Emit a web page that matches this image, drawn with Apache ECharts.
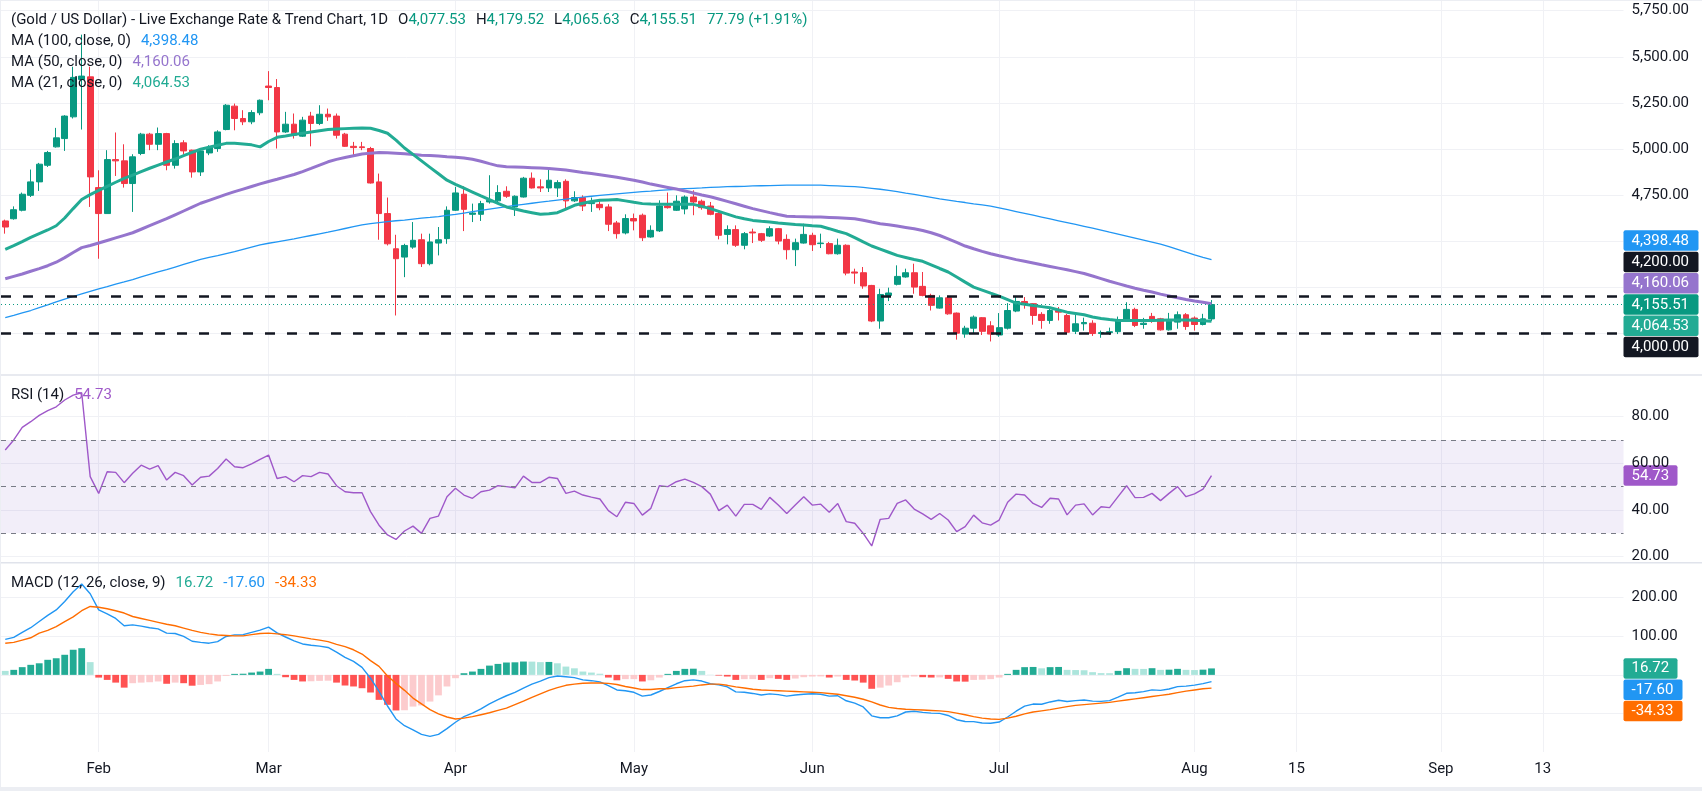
<!DOCTYPE html>
<html>
<head>
<meta charset="utf-8">
<title>Gold / US Dollar</title>
<script src="https://cdn.jsdelivr.net/npm/echarts@6.0.0/dist/echarts.min.js"></script>
<style>
html,body{margin:0;padding:0;background:#fff;}
#chart{width:1702px;height:791px;}
</style>
</head>
<body>
<div id="chart"></div>
<script>
// 日K [open, high, low, close]
var candles = [
	[4609,4616,4540,4576],[4621,4688,4616,4670],[4667,4763,4661,4754],[4748,4888,4739,4821],[4821,4924,4772,4917],
	[4911,4989,4902,4980],[5011,5114,5007,5060],[5056,5183,4989,5178],[5174,5446,5165,5388],[5377,5620,5105,5395],
	[5391,5446,4685,4848],[4790,4884,4404,4649],[4649,4993,4649,4942],[4942,5089,4853,4935],[4935,5025,4790,4812],
	[4812,4971,4658,4957],[4975,5087,4966,5080],[5080,5087,4993,5025],[5025,5116,4993,5083],[5083,5087,4884,4911],
	[4911,5047,4893,5029],[5033,5047,4971,4989],[4993,4996,4844,4875],[4875,5002,4853,4989],[4978,5020,4966,5007],
	[5002,5101,4984,5092],[5105,5243,5101,5237],[5232,5246,5101,5165],[5165,5210,5129,5147],[5147,5210,5134,5197],
	[5196,5268,5183,5264],[5341,5422,5264,5333],[5333,5379,5002,5092],[5092,5201,5087,5134],[5134,5192,5056,5074],
	[5069,5174,5065,5156],[5178,5201,5014,5138],[5138,5237,5129,5188],[5188,5219,5152,5174],[5178,5192,5056,5074],
	[5080,5087,5011,5014],[5014,5038,4966,5007],[5011,5038,4993,5007],[5002,5011,4812,4815],[4821,4866,4507,4649],
	[4649,4736,4476,4485],[4458,4534,4096,4404],[4413,4485,4304,4476],[4467,4603,4458,4504],[4507,4540,4359,4377],
	[4377,4540,4368,4495],[4489,4576,4422,4507],[4513,4688,4485,4667],[4667,4794,4663,4761],[4754,4797,4554,4672],
	[4645,4703,4603,4652],[4645,4718,4609,4703],[4712,4857,4703,4721],[4718,4803,4703,4763],[4770,4797,4734,4743],
	[4685,4748,4636,4743],[4739,4848,4736,4841],[4841,4872,4785,4788],[4794,4835,4766,4788],[4788,4890,4766,4830],
	[4788,4830,4739,4817],[4824,4835,4672,4718],[4718,4770,4712,4736],[4736,4748,4663,4690],[4703,4736,4658,4709],
	[4699,4721,4667,4681],[4685,4700,4554,4591],[4598,4609,4513,4540],[4544,4645,4536,4622],[4622,4649,4558,4609],
	[4640,4649,4500,4518],[4522,4585,4518,4558],[4555,4721,4549,4690],[4690,4763,4676,4681],[4667,4748,4663,4716],
	[4674,4748,4645,4739],[4739,4775,4640,4712],[4716,4725,4670,4681],[4690,4712,4640,4645],[4649,4663,4509,4531],
	[4536,4585,4482,4562],[4562,4585,4468,4477],[4477,4549,4455,4540],[4549,4567,4489,4544],[4540,4544,4495,4504],
	[4527,4580,4522,4567],[4567,4571,4482,4500],[4509,4536,4400,4453],[4453,4513,4364,4491],[4489,4594,4486,4536],
	[4531,4545,4446,4480],[4486,4540,4462,4489],[4486,4495,4428,4431],[4431,4513,4426,4477],[4477,4482,4314,4326],
	[4332,4350,4268,4326],[4328,4359,4241,4256],[4259,4262,4060,4066],[4066,4241,4024,4210],[4205,4247,4174,4218],
	[4265,4368,4259,4308],[4305,4350,4301,4328],[4328,4377,4214,4250],[4254,4332,4200,4205],[4205,4214,4123,4151],
	[4136,4205,4133,4192],[4192,4201,4100,4105],[4109,4112,3965,4000],[3995,4040,3975,4027],[4027,4096,4000,4087],
	[4084,4087,3990,4010],[4040,4065,3955,3995],[3990,4109,3980,4030],[4027,4163,4020,4123],[4120,4196,4114,4172],
	[4172,4196,4133,4156],[4160,4163,4046,4096],[4102,4114,4024,4069],[4069,4133,4051,4123],[4123,4142,4069,4114],
	[4096,4105,3995,4005],[4010,4101,3995,4051],[4051,4084,4014,4058],[4054,4070,3985,3998],[3998,4014,3975,4003],
	[4003,4030,3990,4008],[4008,4090,3995,4073],[4074,4168,4069,4129],[4129,4138,4033,4042],[4047,4083,4024,4054],
	[4091,4110,4056,4065],[4078,4083,4014,4018],[4018,4110,4014,4065],[4060,4118,4024,4100],[4100,4109,4018,4036],
	[4082,4091,4014,4047],[4047,4105,4042,4077.72],[4077.53,4179.52,4065.63,4155.51]
];

var ma100 = [
	4085,4097,4110,4123,4138,4153,4170,4185,4199,4213,4227,4241,4253,4266,4278,4291,4305,4319,4332,4345,
	4359,4373,4387,4400,4411,4421,4432,4443,4455,4467,4479,4488,4496,4504,4512,4521,4530,4539,4548,4558,
	4568,4578,4588,4594,4600,4605,4610,4614,4619,4624,4628,4633,4639,4645,4652,4659,4666,4673,4680,4687,
	4693,4699,4705,4711,4716,4722,4727,4733,4738,4743,4748,4752,4756,4760,4764,4768,4771,4775,4778,4781,
	4784,4786,4788,4791,4793,4795,4796,4797,4799,4800,4801,4802,4803,4803,4803,4803,4803,4801,4799,4797,
	4795,4791,4786,4781,4775,4768,4760,4753,4745,4737,4729,4722,4715,4709,4702,4696,4690,4680,4670,4660,
	4650,4640,4630,4620,4610,4600,4590,4580,4570,4559,4548,4538,4527,4516,4505,4494,4483,4470,4455,4440,
	4425,4411,4398.48
];
var ma50 = [
	4295,4308,4321,4336,4350,4366,4385,4410,4438,4464,4476,4489,4503,4517,4531,4545,4564,4583,4602,4621,
	4642,4663,4684,4705,4721,4737,4753,4768,4782,4796,4810,4823,4835,4848,4861,4877,4894,4912,4930,4943,
	4953,4963,4972,4977,4980,4979,4976,4973,4970,4966,4964,4962,4958,4955,4951,4944,4933,4920,4908,4903,
	4902,4900,4898,4896,4894,4890,4885,4879,4872,4866,4860,4853,4846,4838,4830,4820,4809,4800,4791,4782,
	4772,4761,4750,4740,4728,4715,4702,4689,4676,4665,4654,4644,4635,4633,4632,4631,4630,4628,4626,4624,
	4621,4613,4603,4594,4588,4581,4574,4567,4557,4545,4530,4512,4493,4473,4458,4444,4431,4420,4410,4399,
	4390,4381,4371,4362,4353,4344,4334,4324,4310,4296,4282,4269,4256,4244,4233,4223,4212,4202,4192,4183,
	4175,4168,4160.06
];
var ma21 = [
	4455,4475,4497,4520,4540,4560,4583,4625,4676,4725,4752,4775,4797,4819,4840,4858,4877,4895,4912,4929,
	4945,4963,4981,4998,5009,5020,5030,5030,5027,5022,5011,5040,5063,5070,5078,5085,5092,5099,5105,5108,
	5110,5112,5113,5112,5100,5085,5048,5005,4970,4935,4900,4865,4830,4808,4787,4766,4745,4725,4705,4685,
	4674,4663,4654,4645,4648,4654,4673,4694,4705,4714,4721,4723,4725,4718,4710,4703,4701,4700,4699,4699,
	4699,4699,4688,4676,4661,4646,4631,4621,4612,4607,4603,4598,4594,4590,4587,4583,4580,4567,4553,4540,
	4518,4495,4473,4456,4439,4422,4411,4400,4390,4371,4351,4332,4305,4277,4250,4234,4217,4201,4182,4163,
	4157,4150,4144,4138,4126,4114,4107,4100,4088,4080,4074,4069,4069,4069,4069,4069,4070,4071,4072,4072,
	4070,4068,4064.53
];
var rsi = [
	65.7,70,75.4,77.8,80.5,82.5,84.2,87.1,89.2,90.2,54.3,47.1,56.4,56.1,51.7,55.7,59.2,57.5,59,52.8,
	56.1,54.7,50.7,54,54.5,57.8,61.8,58.5,58.1,59.7,61.7,63.5,53.5,54.3,52.1,54.7,54.3,56.1,55.4,50.4,
	47.8,47.4,47.4,39.3,33.5,29.3,27.4,31,33.1,30,36.4,37.4,45.7,49.3,46.4,45,47.8,48.5,50.4,50,
	49.5,54.5,51.8,51.8,54,53.5,47.1,48.1,46.4,45.5,44.7,39.7,37.1,43.3,42.8,37.8,40.7,50.4,50,52.1,
	53.2,51.8,50,46.8,39.7,42.1,37.4,42.4,42.4,40.3,45.4,42.1,38.5,42.1,45.7,42.1,42.5,39,42.8,35,
	34.3,30,24.6,36,36.4,42.8,44.3,40.4,38.3,36,38.5,35.7,30.7,32.9,37.8,34.5,33.5,35.7,43.3,46.8,
	46.4,42.8,41.1,45,44.7,37.9,42.1,42.6,37.9,41.4,41,45.7,50.4,45.3,45.4,47.1,44,47.1,50,45.7,
	46.9,48.9,54.73
];
var macdLine = [
	92,97,110,122,138,154,168,190,215,235,210,168,158,146,127,129.5,126,122,119,108,
	107,99.5,87,84,82,86,99.4,103.6,104,110,115.6,123.5,108.6,98,88,80,76.5,74.5,71,59,
	45.5,35,19.5,-8.6,-42.6,-80.5,-114,-131.5,-142,-154,-159,-154,-139,-122.6,-108,-99,-88,-75,-64,-54,
	-45,-34,-24,-16,-7,-3,-5,-7,-13,-15,-18,-28,-39,-41,-45,-55,-52,-43,-33,-23,
	-15,-13,-16,-23,-26,-31,-44,-45,-48,-52,-49,-51,-55,-52,-50,-49,-50,-55,-54,-67,
	-73,-83,-106,-111,-111,-106,-96,-94,-97,-99,-99.5,-105,-116,-120.5,-121,-124.5,-125,-122,-109,-94,
	-81,-75.5,-76,-70,-65.5,-69,-66.5,-65,-68,-68.5,-66.7,-57.6,-47.7,-46.4,-43.4,-38.7,-40,-36.5,-30.4,-29,
	-26.5,-22.5,-17.6
];
var macdSignal = [
	82,84,90,96,108,115,125,138,150,166,177,175,171,166,160,151,146,141,136,131,
	127,121,115,110,106,103,102,101,101,104,107,108,106,104,101,97,93,90,86,79,
	73,65,54,37,22,-3,-22,-40,-60,-75,-90,-101,-109,-114,-112,-108,-103,-98,-92,-86,
	-77,-68,-58,-49,-40,-33,-27,-24,-21.5,-21,-21,-22,-25,-30,-34,-38,-38,-36,-36,-33,
	-31,-29,-26,-24,-24,-27,-31,-34,-37,-39,-40,-41,-42,-43,-44,-45,-46,-48,-50,-54,
	-58,-63,-70,-78,-84,-87,-89,-90,-91,-92,-93,-95,-99,-103,-108,-112,-114,-115,-112,-107,
	-101,-96,-93,-90,-86,-82,-79,-77,-75,-73,-71,-68,-65,-62,-59,-56,-53,-50,-46,-42,
	-39,-36,-34.33
];
var macdHist = [
	10.3,13,20,26,30,39,43,52,65,69,33,-7,-13,-20,-33,-21.5,-20,-19,-17,-23,
	-20,-21.5,-28,-26,-24,-17,-2.6,2.6,3,6,8.6,15.5,2.6,-6,-13,-17,-16.5,-15.5,-15,-20,
	-27.5,-30,-34.5,-45.6,-64.6,-77.5,-92,-91.5,-82,-79,-69,-53,-30,-8.6,4.3,8.6,15.5,24,28.4,32,
	32.5,34.5,34.3,33,33.5,30,21.5,17,8.6,6,3,-6.9,-14,-11,-11,-17,-14,-6.9,2.6,10.3,
	15.5,16,10.3,0.5,-1.7,-4.3,-13,-11,-11,-13,-8.6,-10.3,-13,-9.5,-6,-4.3,-4,-6.9,-4.3,-13,
	-14.6,-20,-36,-33,-27.5,-19,-6.9,-4.3,-6,-6.9,-6.5,-10.3,-17,-17.5,-13,-12.5,-11,-6.9,2.6,13,
	20,20.5,17,20,20.5,13,12.5,12,7,4.5,4.3,10.4,17.3,15.6,15.4,17.3,13,13.5,15.6,13,
	12.5,13.5,16.72
];

var levels = [4200, 4000];
var priceTicks = [4000, 4250, 4500, 4750, 5000, 5250, 5500, 5750];
var priceLabels = [4750, 5000, 5250, 5500, 5750];
var rsiTicks = [20, 40, 60, 80];
var rsiBands = [30, 50, 70];
var macdTicks = [-100, 0, 100, 200];
var macdLabels = [100, 200];
var xTickDates = ['2026-02-02','2026-03-02','2026-04-01','2026-05-01','2026-06-01','2026-07-01','2026-08-03','2026-08-15','2026-09-01','2026-09-13'];
var xTickLabels = ['Feb','Mar','Apr','May','Jun','Jul','Aug','15','Sep','13'];
var holidays = ['2026-04-03'];
var lastBarDate = '2026-08-05';

// 交易日 + 之后的自然日
var dates = [];
(function(){
	var d = new Date(Date.UTC(2026, 0, 16));
	while (dates.length < 191) {
		var s = d.toISOString().slice(0, 10);
		var wd = d.getUTCDay();
		if (s > lastBarDate || (wd != 0 && wd != 6 && holidays.indexOf(s) == -1)) dates.push(s);
		d.setUTCDate(d.getUTCDate() + 1);
	}
})();

var FONT = 'Roboto, "Noto Sans", sans-serif';
var TXT = '#131722';
var GRID = '#f0f1f5';
var UP = '#089981', DOWN = '#f23645';

function fmt(v){
	var p = Number(v).toFixed(2).split('.');
	return p[0].replace(/\B(?=(\d{3})+(?!\d))/g, ',') + '.' + p[1];
}

var last = candles[candles.length - 1];
var prevClose = candles[candles.length - 2][3];
var chg = last[3] - prevClose;

function xAxisOf(i, showLabel){
	return {
		type: 'category', gridIndex: i, data: dates, boundaryGap: true,
		axisLine: {show: false}, axisTick: {show: false}, splitLine: {show: false},
		axisLabel: {
			show: showLabel, margin: 10, color: TXT, fontSize: 15, fontFamily: FONT,
			interval: function(idx, v){ return xTickDates.indexOf(v) >= 0; },
			formatter: function(v){ return xTickLabels[xTickDates.indexOf(v)]; }
		}
	};
}
function yAxisOf(i, min, max, ticks, labels, f){
	return {
		type: 'value', gridIndex: i, position: 'right', min: min, max: max,
		axisLine: {show: false},
		axisTick: {show: false, customValues: ticks},
		splitLine: {show: true, lineStyle: {color: GRID, width: 1}},
		axisLabel: {customValues: labels, margin: 8, color: TXT, fontSize: 15, fontFamily: FONT, formatter: f}
	};
}
// 月份竖线
function vLines(i){
	return {
		type: 'line', xAxisIndex: i, yAxisIndex: i, data: [], silent: true,
		markLine: {
			silent: true, symbol: ['none','none'], z: 0, animation: false,
			label: {show: false},
			lineStyle: {color: GRID, width: 1, type: 'solid'},
			data: xTickDates.map(function(d){ return {xAxis: d}; })
		}
	};
}
function legend(top, text, rich){
	var r = {t: {color: TXT, fontSize: 15, fontFamily: FONT}};
	for (var k in rich) r[k] = {color: rich[k][0], fontSize: 15, fontFamily: FONT, padding: [0,0,0,rich[k][1]]};
	return {left: 11, top: top, padding: 0, text: text,
		textStyle: {fontSize: 15, fontWeight: 'normal', color: TXT, fontFamily: FONT, lineHeight: 20, rich: r}};
}

var W = 1622.5;
var option = {
	animation: false,
	backgroundColor: '#fff',
	textStyle: {fontFamily: FONT},
	title: [
		legend(10.7, '{t|(Gold / US Dollar) - Live Exchange Rate & Trend Chart, 1D}{k|O}{v|' + fmt(last[0]) + '}{k|H}{v|' + fmt(last[1]) +
			'}{k|L}{v|' + fmt(last[2]) + '}{k|C}{v|' + fmt(last[3]) + '}{g|' + chg.toFixed(2) + ' (+' + (chg / prevClose * 100).toFixed(2) + '%)}',
			{k: [TXT, 10], v: [UP, 0], g: [UP, 10]}),
		legend(31.7, '{t|MA (100, close, 0)}{b|' + fmt(ma100[ma100.length - 1]) + '}', {b: ['#2196f3', 10]}),
		legend(52.7, '{t|MA (50, close, 0)}{b|' + fmt(ma50[ma50.length - 1]) + '}', {b: ['#9575cd', 10]}),
		legend(73.3, '{t|MA (21, close, 0)}{b|' + fmt(ma21[ma21.length - 1]) + '}', {b: ['#22ab94', 10]}),
		legend(385, '{t|RSI (14)}{b|' + rsi[rsi.length - 1].toFixed(2) + '}', {b: ['#9f58c9', 10]}),
		legend(573, '{t|MACD (12, 26, close, 9)}{a|' + macdHist[macdHist.length - 1].toFixed(2) + '}{b|' + macdLine[macdLine.length - 1].toFixed(2) +
			'}{c|' + macdSignal[macdSignal.length - 1].toFixed(2) + '}', {a: ['#22ab94', 10], b: ['#2196f3', 10], c: ['#ff6d00', 10]})
	],
	grid: [
		{left: 1, width: W, top: 0, height: 375},
		{left: 1, width: W, top: 375, height: 187.7},
		{left: 1, width: W, top: 562.7, height: 189.3}
	],
	xAxis: [xAxisOf(0, false), xAxisOf(1, false), xAxisOf(2, true)],
	yAxis: [
		yAxisOf(0, 3773, 5808, priceTicks, priceLabels, fmt),
		yAxisOf(1, 17.43, 97.8, rsiTicks, rsiTicks, function(v){ return v.toFixed(2); }),
		yAxisOf(2, -199.5, 290.2, macdTicks, macdLabels, function(v){ return v.toFixed(2); })
	],
	series: [
		vLines(0), vLines(1), vLines(2),
		{
			name: 'XAUUSD', type: 'candlestick', xAxisIndex: 0, yAxisIndex: 0, barWidth: '74%',
			data: candles.map(function(c){ return [c[0], c[3], c[2], c[1]]; }),
			itemStyle: {color: UP, color0: DOWN, borderColor: UP, borderColor0: DOWN, borderWidth: 1},
			markLine: {
				silent: true, symbol: ['none','none'], animation: false, label: {show: false},
				data: levels.map(function(v){ return {yAxis: v, lineStyle: {color: TXT, width: 2.5, type: [10, 12]}}; })
					.concat([{yAxis: last[3], lineStyle: {color: UP, width: 1, type: [1, 3]}}])
			}
		},
		{name: 'MA100', type: 'line', xAxisIndex: 0, yAxisIndex: 0, data: ma100, showSymbol: false, symbol: 'none',
			lineStyle: {color: '#2196f3', width: 1.3}},
		{name: 'MA50', type: 'line', xAxisIndex: 0, yAxisIndex: 0, data: ma50, showSymbol: false, symbol: 'none',
			lineStyle: {color: '#9575cd', width: 3}},
		{name: 'MA21', type: 'line', xAxisIndex: 0, yAxisIndex: 0, data: ma21, showSymbol: false, symbol: 'none',
			lineStyle: {color: '#22ab94', width: 3}},
		{
			name: 'RSI', type: 'line', xAxisIndex: 1, yAxisIndex: 1, data: rsi, showSymbol: false, symbol: 'none',
			lineStyle: {color: '#9f58c9', width: 1.4},
			markArea: {silent: true, itemStyle: {color: 'rgba(126,87,194,0.1)'}, data: [[{yAxis: rsiBands[0]}, {yAxis: rsiBands[2]}]]},
			markLine: {
				silent: true, symbol: ['none','none'], animation: false, label: {show: false},
				lineStyle: {color: '#787b86', width: 1, type: [5, 5]},
				data: rsiBands.map(function(v){ return {yAxis: v}; })
			}
		},
		{
			name: 'Histogram', type: 'bar', xAxisIndex: 2, yAxisIndex: 2, data: macdHist, barWidth: '80%',
			itemStyle: {
				color: function(p){
					var h = macdHist[p.dataIndex], prev = p.dataIndex > 0 ? macdHist[p.dataIndex - 1] : Infinity;
					if (h >= 0) return h >= prev ? '#22ab94' : '#ace5dc';
					return h < prev ? '#ff5252' : '#fccbcd';
				}
			}
		},
		{name: 'MACD', type: 'line', xAxisIndex: 2, yAxisIndex: 2, data: macdLine, showSymbol: false, symbol: 'none',
			lineStyle: {color: '#2196f3', width: 1.4}},
		{name: 'Signal', type: 'line', xAxisIndex: 2, yAxisIndex: 2, data: macdSignal, showSymbol: false, symbol: 'none',
			lineStyle: {color: '#ff6d00', width: 1.4}}
	]
};

var chart = echarts.init(document.getElementById('chart'));
chart.setOption(option);

// 右侧价格标签, 避免重叠
function stack(list, axis, anchor, gap){
	var ys = list.map(function(b){ return chart.convertToPixel({yAxisIndex: axis}, b.v); });
	for (var i = anchor - 1; i >= 0; i--) ys[i] = Math.min(ys[i], ys[i + 1] - gap);
	for (var j = anchor + 1; j < ys.length; j++) ys[j] = Math.max(ys[j], ys[j - 1] + gap);
	return list.map(function(b, k){
		return {
			type: 'group', x: 1 + W, y: ys[k] - 10.25, z: 100,
			children: [
				{type: 'rect', shape: {x: 0, y: 0, width: b.w, height: 20.5, r: 2}, style: {fill: b.bg}},
				{type: 'text', style: {x: 8, y: 10.5, text: b.t || fmt(b.v), fill: '#fff', font: '15px ' + FONT, verticalAlign: 'middle'}}
			]
		};
	});
}

var priceBadges = [
	{v: ma100[ma100.length - 1], bg: '#2196f3', w: 75},
	{v: levels[0], bg: TXT, w: 75},
	{v: ma50[ma50.length - 1], bg: '#9575cd', w: 75},
	{v: last[3], bg: UP, w: 75},
	{v: ma21[ma21.length - 1], bg: '#22ab94', w: 75},
	{v: levels[1], bg: TXT, w: 75}
];
var rsiBadge = [{v: rsi[rsi.length - 1], t: rsi[rsi.length - 1].toFixed(2), bg: '#9f58c9', w: 54}];
var macdBadges = [
	{v: macdHist[macdHist.length - 1], t: macdHist[macdHist.length - 1].toFixed(2), bg: '#22ab94', w: 54},
	{v: macdLine[macdLine.length - 1], t: macdLine[macdLine.length - 1].toFixed(2), bg: '#2196f3', w: 59},
	{v: macdSignal[macdSignal.length - 1], t: macdSignal[macdSignal.length - 1].toFixed(2), bg: '#ff6d00', w: 59}
];

var chrome = [
	{type: 'rect', shape: {x: 0, y: 374.3, width: 1702, height: 1.4}, style: {fill: '#e0e3eb'}, z: 50},
	{type: 'rect', shape: {x: 0, y: 562, width: 1702, height: 1.4}, style: {fill: '#e0e3eb'}, z: 50},
	{type: 'rect', shape: {x: 0, y: 787, width: 1702, height: 4}, style: {fill: '#eceef3'}, z: 50},
	{type: 'rect', shape: {x: 0, y: 0, width: 1702, height: 1}, style: {fill: '#eceef3'}, z: 50},
	{type: 'rect', shape: {x: 0, y: 0, width: 1, height: 791}, style: {fill: '#eceef3'}, z: 50}
];

chart.setOption({
	graphic: chrome.concat(stack(priceBadges, 0, 3, 21.3), stack(rsiBadge, 1, 0, 21.3), stack(macdBadges, 2, 0, 21.3))
});
</script>
</body>
</html>
